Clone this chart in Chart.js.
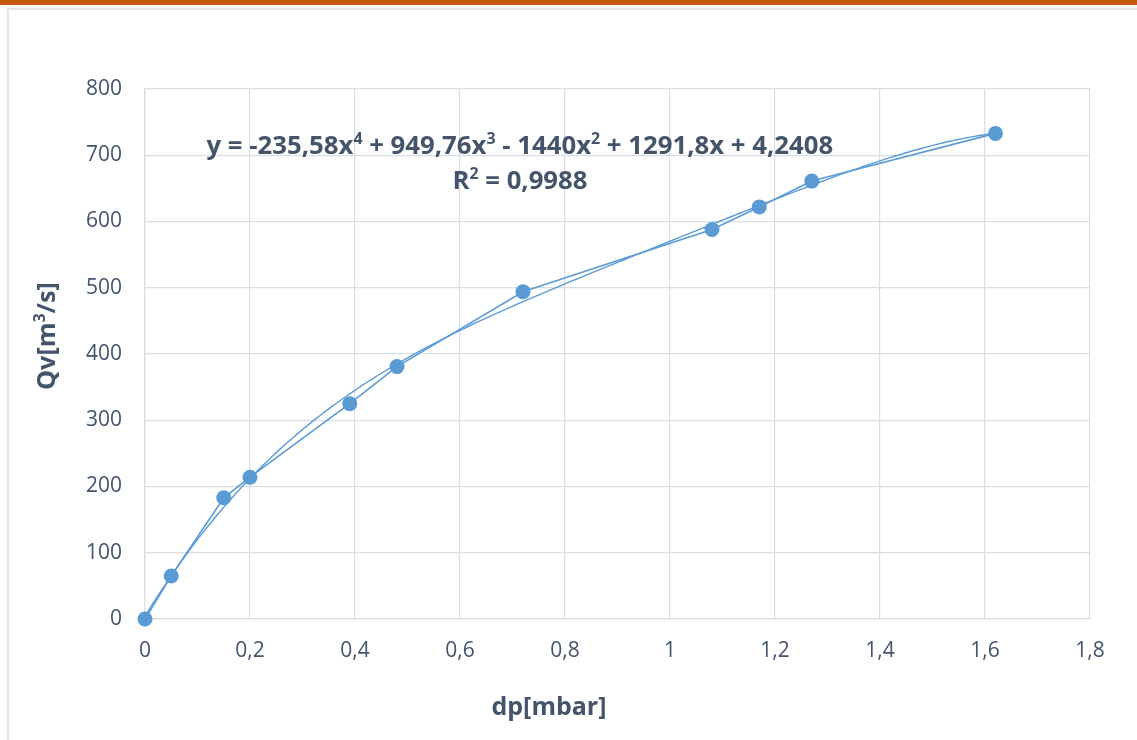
<!DOCTYPE html>
<html>
<head>
<meta charset="utf-8">
<script src="https://cdn.jsdelivr.net/npm/chart.js@4/dist/chart.umd.min.js"></script>
<style>
  html, body { margin: 0; padding: 0; background: #ffffff; }
  #wrap { width: 1137px; height: 740px; position: relative; }
</style>
</head>
<body>
<div id="wrap"><canvas id="c" width="1137" height="740"></canvas></div>
<script>
// Measured pressure drop (mbar) and volume flow (m³/s)
const dp = [0, 0.05, 0.15, 0.2, 0.39, 0.48, 0.72, 1.08, 1.17, 1.27, 1.62];
const qv = [0, 65, 183, 214, 325, 381, 494, 588, 622, 661, 733];

// 4th-order polynomial trendline coefficients, highest power first
const trendCoeffs = [-235.58, 949.76, -1440, 1291.8, 4.2408];
// Equation label pieces; sup marks exponents
const trendLabelParts = [
  { t: 'y = -235,58x' }, { t: '4', sup: true },
  { t: ' + 949,76x' }, { t: '3', sup: true },
  { t: ' - 1440x' }, { t: '2', sup: true },
  { t: ' + 1291,8x + 4,2408' }
];
const r2LabelParts = [{ t: 'R' }, { t: '2', sup: true }, { t: ' = 0,9988' }];

// Axis tick labels
const xTickLabels = ['0', '0,2', '0,4', '0,6', '0,8', '1', '1,2', '1,4', '1,6', '1,8'];
const yTickLabels = ['0', '100', '200', '300', '400', '500', '600', '700', '800'];

const xTitleParts = [{ t: 'dp[mbar]' }];
const yTitleParts = [{ t: 'Qv[m' }, { t: '3', sup: true }, { t: '/s]' }];

const FONT = '"Open Sans", Lato, sans-serif';
const TEXT = '#44546A';
const GRID = '#D9DEE6';
const BLUE = '#5B9BD5';

function poly(x) {
  return trendCoeffs.reduce((acc, c) => acc * x + c, 0);
}

// Trendline evaluated along the measured range
const trendPts = [];
const xMaxData = dp[dp.length - 1];
for (let i = 0; i <= 160; i++) {
  const x = xMaxData * i / 160;
  trendPts.push({ x: x, y: poly(x) });
}

// Width of a run of text pieces at a given font size
function partsWidth(ctx, parts, size) {
  let w = 0;
  for (const p of parts) {
    ctx.font = 'bold ' + (p.sup ? size * 0.62 : size) + 'px ' + FONT;
    w += ctx.measureText(p.t).width;
  }
  return w;
}

// Draws text pieces centred on (cx, cy), scaled to span the given width
function drawParts(ctx, parts, cx, cy, width) {
  const size = 100 * width / partsWidth(ctx, parts, 100);
  let x = cx - width / 2;
  ctx.textAlign = 'left';
  ctx.textBaseline = 'middle';
  for (const p of parts) {
    const s = p.sup ? size * 0.62 : size;
    ctx.font = 'bold ' + s + 'px ' + FONT;
    ctx.fillText(p.t, x, p.sup ? cy - size * 0.3 : cy);
    x += ctx.measureText(p.t).width;
  }
}

const decor = {
  id: 'decor',
  beforeDraw(chart) {
    const ctx = chart.ctx;
    ctx.save();
    ctx.fillStyle = '#ffffff';
    ctx.fillRect(0, 0, chart.width, chart.height);
    // top accent bar
    ctx.fillStyle = '#C55A11';
    ctx.fillRect(0, 0, chart.width, 5);
    // frame
    ctx.strokeStyle = '#E1E5EB';
    ctx.lineWidth = 2;
    ctx.beginPath();
    ctx.moveTo(8, chart.height);
    ctx.lineTo(8, 9);
    ctx.lineTo(chart.width, 9);
    ctx.stroke();
    ctx.restore();
  },
  afterDraw(chart) {
    const ctx = chart.ctx;
    ctx.save();
    ctx.fillStyle = TEXT;
    drawParts(ctx, trendLabelParts, 520, 147, 627);
    drawParts(ctx, r2LabelParts, 520, 182, 135);
    drawParts(ctx, xTitleParts, 549, 708, 115);
    ctx.translate(48, 336);
    ctx.rotate(-Math.PI / 2);
    drawParts(ctx, yTitleParts, 0, 0, 108);
    ctx.restore();
  }
};

new Chart(document.getElementById('c'), {
  type: 'scatter',
  data: {
    datasets: [
      {
        label: 'Qv',
        data: dp.map((x, i) => ({ x: x, y: qv[i] })),
        showLine: true,
        borderColor: BLUE,
        backgroundColor: BLUE,
        borderWidth: 1.6,
        pointRadius: 7.5,
        pointHoverRadius: 7.5,
        pointBorderWidth: 0,
        clip: false,
        order: 1
      },
      {
        label: 'Trend',
        data: trendPts,
        showLine: true,
        borderColor: BLUE,
        borderWidth: 1.4,
        pointRadius: 0,
        tension: 0,
        clip: false,
        order: 2
      }
    ]
  },
  options: {
    responsive: false,
    animation: false,
    layout: { padding: { left: 0, right: 47, top: 89, bottom: 0 } },
    plugins: {
      legend: { display: false },
      tooltip: { enabled: false }
    },
    scales: {
      x: {
        type: 'linear',
        min: 0,
        max: 1.8,
        ticks: {
          stepSize: 0.2,
          padding: 19,
          color: TEXT,
          font: { family: FONT, size: 21 },
          callback: (v, i) => xTickLabels[i]
        },
        grid: { color: GRID, lineWidth: 1.2, drawTicks: false },
        border: { color: GRID, width: 1.2 },
        afterFit: s => { s.height = 121; }
      },
      y: {
        type: 'linear',
        min: 0,
        max: 800,
        ticks: {
          stepSize: 100,
          padding: 23,
          color: TEXT,
          font: { family: FONT, size: 21 },
          callback: (v, i) => yTickLabels[i]
        },
        grid: { color: GRID, lineWidth: 1.2, drawTicks: false },
        border: { color: GRID, width: 1.2 },
        afterFit: s => { s.width = 145; }
      }
    }
  },
  plugins: [decor]
});
</script>
</body>
</html>
